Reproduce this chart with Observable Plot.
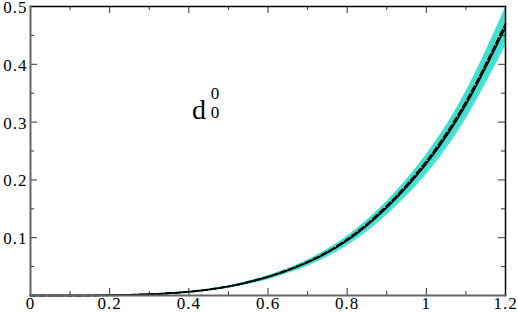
<!DOCTYPE html>
<html>
<head>
<meta charset="utf-8">
<script src="https://cdn.jsdelivr.net/npm/d3@7"></script>
<script src="https://cdn.jsdelivr.net/npm/@observablehq/plot@0.6"></script>
<style>
  html, body { margin: 0; padding: 0; background: #fff; }
  #chart { width: 518px; height: 313px; }
  #chart svg, #chart svg text { font-family: "Liberation Serif", serif !important; }
  #chart g[aria-label$="tick label"] text { letter-spacing: 1px; }
</style>
</head>
<body>
<div id="chart"></div>
<script>
// ---- data ----
const xs      = [0, 0.1, 0.2, 0.3, 0.4, 0.5, 0.6, 0.7, 0.8, 0.9, 1.0, 1.1, 1.2];
const central = [0, 0.0000, 0.0004, 0.0021, 0.0064, 0.0155, 0.032, 0.057, 0.095, 0.152, 0.228, 0.330, 0.464];
const dashed  = [0, 0.0000, 0.0004, 0.0021, 0.0065, 0.0157, 0.0325, 0.058, 0.097, 0.155, 0.232, 0.335, 0.470];
const bandHi  = [0, 0.0000, 0.0004, 0.0023, 0.0069, 0.0166, 0.034, 0.061, 0.102, 0.162, 0.243, 0.352, 0.497];
const bandLo  = [0, 0.0000, 0.0004, 0.0020, 0.0060, 0.0145, 0.030, 0.053, 0.089, 0.142, 0.213, 0.310, 0.437];

const xMajor = [0, 0.2, 0.4, 0.6, 0.8, 1, 1.2];
const xMajorLabels = ["0", "0.2", "0.4", "0.6", "0.8", "1", "1.2"];
const xMinor = [0.1, 0.3, 0.5, 0.7, 0.9, 1.1];
const yMajor = [0.1, 0.2, 0.3, 0.4, 0.5];
const yMajorLabels = ["0.1", "0.2", "0.3", "0.4", "0.5"];
const yMinor = [0.05, 0.15, 0.25, 0.35, 0.45];

const labelAnchor = [{x: 0.4257, y: 0.321}];

// ---- build ----
const rows = xs.map((x, i) => ({x, c: central[i], d: dashed[i], hi: bandHi[i], lo: bandLo[i]}));

const W = 518, H = 313;
const mL = 30, mR = 13, mT = 6, mB = 18;
const frameH = H - mT - mB, frameW = W - mL - mR;
const majorLen = 7, minorLen = 4;
const tickColor = "#333";

const chart = Plot.plot({
  width: W, height: H,
  marginLeft: mL, marginRight: mR, marginTop: mT, marginBottom: mB,
  style: {fontFamily: "Liberation Serif", fontSize: "17px", background: "#fff", color: "#000", overflow: "visible"},
  x: {domain: [0, 1.2]},
  y: {domain: [0, 0.5]},
  marks: [
    // band
    Plot.areaY(rows, {x: "x", y1: "lo", y2: "hi", fill: "#40E0D0", curve: "natural"}),
    Plot.line(rows, {x: "x", y: "hi", stroke: "#40E0D0", strokeWidth: 1.5, curve: "natural"}),
    Plot.line(rows, {x: "x", y: "lo", stroke: "#40E0D0", strokeWidth: 1.5, curve: "natural"}),
    // lines
    Plot.line(rows, {x: "x", y: "c", stroke: "#000", strokeWidth: 1.6, curve: "natural"}),
    Plot.line(rows, {x: "x", y: "d", stroke: "#000", strokeWidth: 2, strokeDasharray: "6,3", curve: "natural"}),
    // inward ticks: bottom / top
    Plot.ruleX(xMajor, {stroke: tickColor, strokeWidth: 1, insetTop: frameH - majorLen}),
    Plot.ruleX(xMinor, {stroke: tickColor, strokeWidth: 1, insetTop: frameH - minorLen}),
    Plot.ruleX(xMajor, {stroke: tickColor, strokeWidth: 1, insetBottom: frameH - majorLen}),
    Plot.ruleX(xMinor, {stroke: tickColor, strokeWidth: 1, insetBottom: frameH - minorLen}),
    // inward ticks: left / right
    Plot.ruleY(yMajor, {stroke: tickColor, strokeWidth: 1, insetRight: frameW - majorLen}),
    Plot.ruleY(yMinor, {stroke: tickColor, strokeWidth: 1, insetRight: frameW - minorLen}),
    Plot.ruleY(yMajor, {stroke: tickColor, strokeWidth: 1, insetLeft: frameW - majorLen}),
    Plot.ruleY(yMinor, {stroke: tickColor, strokeWidth: 1, insetLeft: frameW - minorLen}),
    // frame
    Plot.frame({anchor: "top", stroke: "#000", strokeWidth: 1.5}),
    Plot.frame({anchor: "right", stroke: "#000", strokeWidth: 1.5}),
    Plot.frame({anchor: "left", stroke: "#666", strokeWidth: 2}),
    Plot.frame({anchor: "bottom", stroke: "#666", strokeWidth: 2}),
    // tick labels
    Plot.axisX({ticks: xMajor, tickSize: 0, tickPadding: 1.5, fontSize: 17, label: null,
      tickFormat: (d) => xMajorLabels[xMajor.indexOf(d)]}),
    Plot.axisY({ticks: yMajor, tickSize: 0, tickPadding: 3, fontSize: 17, dy: 1, label: null,
      tickFormat: (d) => yMajorLabels[yMajor.indexOf(d)]}),
    // annotation d_0^0
    Plot.text(labelAnchor, {x: "x", y: "y", text: () => "d", fontSize: 28}),
    Plot.text(labelAnchor, {x: "x", y: "y", text: () => "0", fontSize: 17, dx: 16, dy: -16}),
    Plot.text(labelAnchor, {x: "x", y: "y", text: () => "0", fontSize: 17, dx: 16, dy: 3})
  ]
});

document.getElementById("chart").appendChild(chart);
</script>
</body>
</html>
